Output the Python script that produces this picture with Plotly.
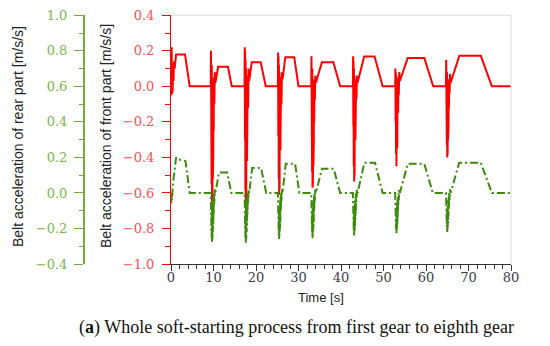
import plotly.graph_objects as go

# ---------------- data ----------------
# front part belt acceleration (red, axis range -1.0..0.4)
red_time = [
    0.00, 0.08, 0.16, 0.24, 0.32, 0.40, 0.50, 0.60, 0.70, 0.85, 1.20, 3.30, 4.40, 9.35,
    9.40, 9.45, 9.50, 9.55, 9.60, 9.65, 9.70, 9.75, 9.80, 9.85, 9.90, 9.95, 10.00, 10.05, 10.10, 10.20, 10.30, 10.45, 11.10, 13.40, 14.30, 17.30,
    17.35, 17.40, 17.45, 17.50, 17.55, 17.60, 17.65, 17.70, 17.75, 17.80, 17.85, 17.90, 17.95, 18.00, 18.05, 18.15, 18.25, 18.40, 19.00, 21.10, 22.30, 25.15,
    25.20, 25.25, 25.30, 25.35, 25.40, 25.45, 25.50, 25.55, 25.60, 25.65, 25.70, 25.75, 25.80, 25.85, 25.90, 26.00, 26.10, 26.25, 26.90, 29.00, 30.00, 33.00,
    33.05, 33.10, 33.15, 33.20, 33.25, 33.30, 33.35, 33.40, 33.45, 33.50, 33.55, 33.60, 33.65, 33.70, 33.75, 33.85, 33.95, 34.10, 35.50, 38.20, 39.80, 42.80,
    42.85, 42.90, 42.95, 43.00, 43.05, 43.10, 43.15, 43.20, 43.25, 43.30, 43.35, 43.40, 43.45, 43.50, 43.55, 43.65, 43.75, 43.90, 45.45, 47.90, 49.80, 52.75,
    52.80, 52.85, 52.90, 52.95, 53.00, 53.05, 53.10, 53.15, 53.20, 53.25, 53.30, 53.35, 53.40, 53.45, 53.50, 53.60, 53.70, 53.85, 55.70, 59.60, 61.70, 64.70,
    64.75, 64.80, 64.85, 64.90, 64.95, 65.00, 65.05, 65.10, 65.15, 65.20, 65.25, 65.30, 65.35, 65.40, 65.45, 65.55, 65.65, 65.80, 67.85, 72.90, 75.50, 80.00,
]
red_accel = [
    0.00, -0.05, 0.22, -0.04, 0.15, -0.02, 0.12, 0.03, 0.14, 0.10, 0.18, 0.18, 0.00, 0.00,
    0.20, -0.30, 0.18, -0.55, 0.12, -0.65, 0.08, -0.62, 0.05, -0.52, 0.03, -0.40, 0.02, -0.25, 0.04, -0.10, 0.08, 0.02, 0.11, 0.11, 0.00, 0.00,
    0.22, -0.30, 0.20, -0.58, 0.15, -0.68, 0.10, -0.66, 0.06, -0.55, 0.04, -0.42, 0.03, -0.28, 0.05, -0.12, 0.10, 0.03, 0.136, 0.136, 0.00, 0.00,
    0.19, -0.28, 0.17, -0.52, 0.12, -0.61, 0.08, -0.58, 0.05, -0.48, 0.03, -0.36, 0.02, -0.22, 0.04, -0.10, 0.08, 0.04, 0.164, 0.164, 0.00, 0.00,
    0.17, -0.25, 0.15, -0.48, 0.10, -0.57, 0.07, -0.54, 0.04, -0.45, 0.02, -0.33, 0.01, -0.20, 0.03, -0.08, 0.06, 0.02, 0.136, 0.136, 0.00, 0.00,
    0.17, -0.22, 0.14, -0.45, 0.10, -0.535, 0.06, -0.50, 0.04, -0.42, 0.02, -0.30, 0.01, -0.18, 0.03, -0.07, 0.06, 0.02, 0.168, 0.168, 0.00, 0.00,
    0.10, -0.20, 0.08, -0.38, 0.06, -0.45, 0.05, -0.42, 0.03, -0.35, 0.02, -0.25, 0.01, -0.15, 0.04, -0.05, 0.08, 0.03, 0.16, 0.16, 0.00, 0.00,
    0.15, -0.18, 0.12, -0.33, 0.08, -0.40, 0.05, -0.37, 0.03, -0.30, 0.02, -0.22, 0.01, -0.12, 0.04, -0.04, 0.07, 0.02, 0.172, 0.172, 0.00, 0.00,
]

# rear part belt acceleration (green, axis range -0.4..1.0)
green_time = [
    0.00, 0.08, 0.16, 0.25, 0.40, 0.70, 1.20, 1.60, 3.40, 4.40, 9.35,
    9.40, 9.45, 9.50, 9.55, 9.60, 9.65, 9.70, 9.75, 9.80, 9.85, 9.90, 9.95, 10.00, 10.05, 10.10, 10.20, 10.30, 10.45, 11.30, 13.20, 14.20, 17.30,
    17.35, 17.40, 17.45, 17.50, 17.55, 17.60, 17.65, 17.70, 17.75, 17.80, 17.85, 17.90, 17.95, 18.00, 18.05, 18.15, 18.25, 18.40, 19.10, 21.20, 22.40, 25.15,
    25.20, 25.25, 25.30, 25.35, 25.40, 25.45, 25.50, 25.55, 25.60, 25.65, 25.70, 25.75, 25.80, 25.85, 25.90, 26.00, 26.10, 26.25, 27.00, 29.20, 30.20, 33.00,
    33.05, 33.10, 33.15, 33.20, 33.25, 33.30, 33.35, 33.40, 33.45, 33.50, 33.55, 33.60, 33.65, 33.70, 33.75, 33.85, 33.95, 34.10, 35.50, 38.30, 39.80, 42.80,
    42.85, 42.90, 42.95, 43.00, 43.05, 43.10, 43.15, 43.20, 43.25, 43.30, 43.35, 43.40, 43.45, 43.50, 43.55, 43.65, 43.75, 43.90, 45.50, 48.00, 49.80, 52.75,
    52.80, 52.85, 52.90, 52.95, 53.00, 53.05, 53.10, 53.15, 53.20, 53.25, 53.30, 53.35, 53.40, 53.45, 53.50, 53.60, 53.70, 53.85, 55.70, 59.60, 61.60, 64.70,
    64.75, 64.80, 64.85, 64.90, 64.95, 65.00, 65.05, 65.10, 65.15, 65.20, 65.25, 65.30, 65.35, 65.40, 65.45, 65.55, 65.65, 65.80, 67.80, 72.90, 75.50, 80.00,
]
green_accel = [
    0.00, -0.06, 0.00, -0.04, 0.04, 0.10, 0.20, 0.19, 0.18, 0.00, 0.00,
    -0.05, -0.18, -0.06, -0.25, -0.10, -0.28, -0.08, -0.26, -0.06, -0.22, -0.04, -0.18, -0.02, -0.12, 0.00, -0.06, 0.02, 0.00, 0.115, 0.115, 0.00, 0.00,
    -0.05, -0.18, -0.06, -0.25, -0.10, -0.28, -0.08, -0.26, -0.06, -0.22, -0.04, -0.18, -0.02, -0.12, 0.00, -0.06, 0.02, 0.00, 0.14, 0.14, 0.00, 0.00,
    -0.05, -0.17, -0.06, -0.23, -0.10, -0.26, -0.08, -0.24, -0.06, -0.20, -0.04, -0.16, -0.02, -0.10, 0.00, -0.05, 0.02, 0.00, 0.164, 0.164, 0.00, 0.00,
    -0.05, -0.17, -0.06, -0.22, -0.10, -0.255, -0.08, -0.24, -0.06, -0.20, -0.04, -0.16, -0.02, -0.10, 0.00, -0.05, 0.02, 0.00, 0.136, 0.136, 0.00, 0.00,
    -0.05, -0.16, -0.06, -0.21, -0.10, -0.24, -0.08, -0.22, -0.06, -0.19, -0.04, -0.15, -0.02, -0.10, 0.00, -0.05, 0.02, 0.00, 0.17, 0.17, 0.00, 0.00,
    -0.05, -0.15, -0.06, -0.20, -0.10, -0.23, -0.08, -0.21, -0.06, -0.18, -0.04, -0.14, -0.02, -0.09, 0.00, -0.04, 0.02, 0.00, 0.164, 0.164, 0.00, 0.00,
    -0.05, -0.15, -0.06, -0.19, -0.10, -0.22, -0.08, -0.20, -0.06, -0.17, -0.04, -0.13, -0.02, -0.08, 0.00, -0.04, 0.02, 0.00, 0.17, 0.17, 0.00, 0.00,
]

x_ticks = [0, 10, 20, 30, 40, 50, 60, 70, 80]
front_ticks = [-1.0, -0.8, -0.6, -0.4, -0.2, 0.0, 0.2, 0.4]
rear_ticks = [-0.4, -0.2, 0.0, 0.2, 0.4, 0.6, 0.8, 1.0]

# ---------------- figure ----------------
W, H = 550, 346
PAGE = 8  # default page margin in the browser: the figure is drawn 8px right/down
px = lambda v: (v - PAGE) / W
py = lambda v: 1 - (v - PAGE) / H

RED = "#ff0000"
RED_TXT = "#ff5050"
GREEN_LINE = "#3a8c0a"
GREEN_AX = "#6fae3a"
GREEN_TXT = "#7ab548"
DARK = "#333333"

fig = go.Figure()
fig.add_trace(go.Scatter(x=red_time, y=red_accel, mode="lines",
                         line=dict(color=RED, width=2), yaxis="y", hoverinfo="skip"))
fig.add_trace(go.Scatter(x=green_time, y=green_accel, mode="lines",
                         line=dict(color=GREEN_LINE, width=2, dash="8px,3px,2px,3px"),
                         yaxis="y2", hoverinfo="skip"))

tick_family = "DejaVu Serif, serif"
TICK_SIZE = 13

fig.update_layout(
    width=W, height=H,
    margin=dict(l=0, r=0, t=0, b=0, pad=0, autoexpand=False),
    paper_bgcolor="white", plot_bgcolor="white",
    showlegend=False,
    xaxis=dict(
        domain=[px(171), px(511)], range=[0, 80], anchor="y", automargin=False,
        tickvals=x_ticks, ticktext=[str(v) for v in x_ticks],
        ticks="outside", ticklen=6, tickcolor=DARK, tickwidth=1,
        minor=dict(dtick=2, ticks="outside", ticklen=4, tickcolor=DARK, showgrid=False),
        showline=True, linecolor=DARK, linewidth=1,
        showgrid=False, zeroline=False,
        tickfont=dict(family=tick_family, size=TICK_SIZE, color="#3a3a4a"),
        ticklabelstandoff=-5, ticklabeloverflow="allow",
    ),
    yaxis=dict(
        domain=[py(264), py(15.3)], range=[-1.0, 0.4], automargin=False,
        tickvals=front_ticks, ticktext=[f"{v:.1f}".replace("-", "\u2212") for v in front_ticks],
        ticks="outside", ticklen=8, tickcolor=RED, tickwidth=1,
        minor=dict(dtick=0.1, ticks="outside", ticklen=5, tickcolor=RED, showgrid=False),
        showline=True, linecolor=RED, linewidth=1,
        showgrid=False, zeroline=False,
        tickfont=dict(family=tick_family, size=TICK_SIZE, color=RED_TXT),
        ticklabelstandoff=5, ticklabeloverflow="allow",
    ),
    yaxis2=dict(
        overlaying="y", anchor="free", position=px(84), side="left", automargin=False,
        range=[-0.4, 1.0],
        tickvals=rear_ticks, ticktext=[f"{v:.1f}".replace("-", "\u2212") for v in rear_ticks],
        ticks="outside", ticklen=9, tickcolor=GREEN_AX, tickwidth=1,
        minor=dict(dtick=0.1, ticks="outside", ticklen=4, tickcolor=GREEN_AX, showgrid=False),
        showline=True, linecolor=GREEN_AX, linewidth=2,
        showgrid=False, zeroline=False,
        tickfont=dict(family=tick_family, size=TICK_SIZE, color=GREEN_TXT),
        ticklabelstandoff=4, ticklabeloverflow="allow",
    ),
    shapes=[
        dict(type="line", xref="paper", yref="paper", x0=px(171), x1=px(511),
             y0=py(15.3), y1=py(15.3), line=dict(color="#dcdcdc", width=1)),
        dict(type="line", xref="paper", yref="paper", x0=px(511), x1=px(511),
             y0=py(15.3), y1=py(264), line=dict(color="#dcdcdc", width=1)),
    ],
    annotations=[
        dict(text="Belt acceleration of rear part [m/s/s]", textangle=-90,
             x=px(18), y=py(137), xref="paper", yref="paper", showarrow=False,
             xanchor="center", yanchor="middle",
             font=dict(family="Liberation Sans, Arial, sans-serif", size=14, color="#222222")),
        dict(text="Belt acceleration of front part [m/s/s]", textangle=-90,
             x=px(106), y=py(136), xref="paper", yref="paper", showarrow=False,
             xanchor="center", yanchor="middle",
             font=dict(family="Liberation Sans, Arial, sans-serif", size=14, color="#222222")),
        dict(text="Time [s]", x=px(321), y=py(297), xref="paper", yref="paper",
             showarrow=False, xanchor="center", yanchor="middle",
             font=dict(family="Liberation Sans, Arial, sans-serif", size=13, color="#222222")),
        dict(text="(<b>a</b>) Whole soft-starting process from first gear to eighth gear",
             x=px(296), y=py(327), xref="paper", yref="paper",
             showarrow=False, xanchor="center", yanchor="middle",
             font=dict(family="Liberation Serif, serif", size=18, color="#111111")),
    ],
)

fig.write_html("out.html")
